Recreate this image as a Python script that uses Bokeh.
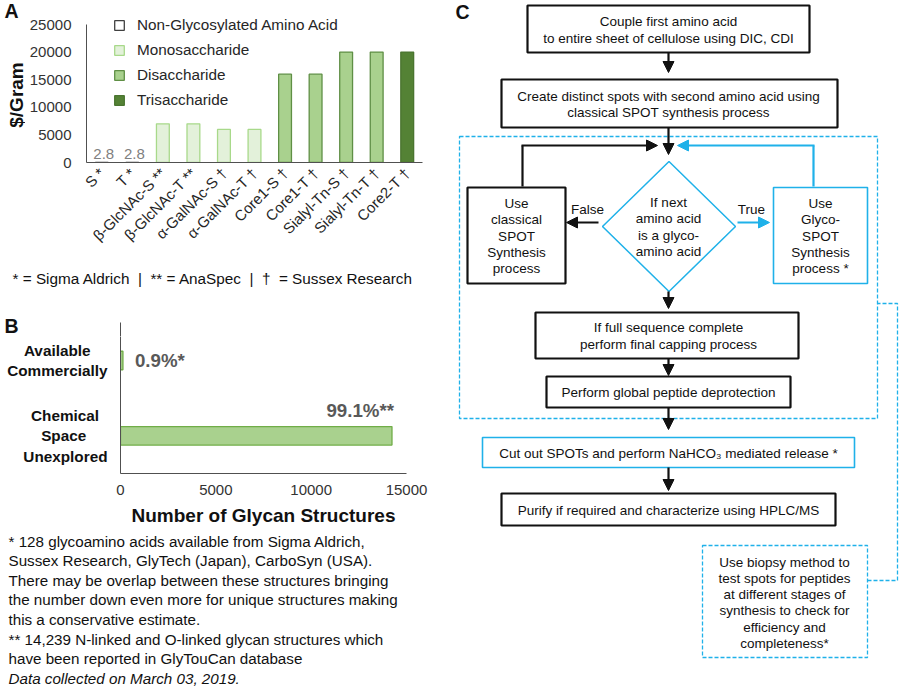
import math
from bokeh.plotting import figure
from bokeh.models import (Range1d, FixedTicker, Legend, LegendItem, Arrow,
                          NormalHead, ColumnDataSource, NumeralTickFormatter)
from bokeh.layouts import row, column
from bokeh.embed import file_html
from bokeh.resources import INLINE
from bokeh.core.properties import value

# ---------------- data: panel A ----------------
amino_acids = ["S *", "T *", "β-GlcNAc-S **", "β-GlcNAc-T **", "α-GalNAc-S †",
               "α-GalNAc-T †", "Core1-S †", "Core1-T †", "Sialyl-Tn-S †",
               "Sialyl-Tn-T †", "Core2-T †"]
price_per_gram = [2.8, 2.8, 7000, 7000, 6000, 6000, 16000, 16000, 20000, 20000, 20000]
glycan_class = (["Non-Glycosylated Amino Acid"] * 2 + ["Monosaccharide"] * 4 +
                ["Disaccharide"] * 4 + ["Trisaccharide"])
class_order = ["Non-Glycosylated Amino Acid", "Monosaccharide", "Disaccharide", "Trisaccharide"]
price_ticks = [0, 5000, 10000, 15000, 20000, 25000]
price_axis_label = "$/Gram"
vendor_parts = ["* = Sigma Aldrich", "** = AnaSpec", "†\u00a0 = Sussex Research"]

# ---------------- data: panel B ----------------
structure_groups = ["Available Commercially", "Chemical Space Unexplored"]
structure_labels = ["Available\nCommercially", "Chemical\nSpace\nUnexplored"]
structure_counts = [128, 14239]
structure_pct = ["0.9%*", "99.1%**"]
count_ticks = [0, 5000, 10000, 15000]
notes_lines = [
    "* 128 glycoamino acids available from Sigma Aldrich,",
    "Sussex Research, GlyTech (Japan), CarboSyn (USA).",
    "There may be overlap between these structures bringing",
    "the number down even more for unique structures making",
    "this a conservative estimate.",
    "** 14,239 N-linked and O-linked glycan structures which",
    "have been reported in GlyTouCan database",
]
notes_italic = "Data collected on March 03, 2019."

# ---------------- styles ----------------
FONT = "Liberation Sans"
BLUE = "#1fb1e9"
BLK = "#111111"
AXIS = "#505050"
class_fill = {"Non-Glycosylated Amino Acid": "#ffffff", "Monosaccharide": "#e3f1da",
              "Disaccharide": "#a9d18e", "Trisaccharide": "#548235"}
class_line = {"Non-Glycosylated Amino Acid": "#404040", "Monosaccharide": "#a8d98a",
              "Disaccharide": "#5f8f45", "Trisaccharide": "#4a7530"}

# Arial/Liberation bold advance widths (1/1000 em) used to centre multi-line tick labels
BOLD_W = {" ": 278, "A": 722, "C": 722, "S": 667, "U": 722, "a": 556, "b": 611,
          "c": 556, "d": 611, "e": 556, "h": 611, "i": 278, "l": 278, "m": 889,
          "n": 611, "o": 611, "p": 611, "r": 389, "v": 556, "x": 556, "y": 556}


def centre_lines(label):
    lines = label.split("\n")
    widths = [sum(BOLD_W.get(ch, 556) for ch in ln) for ln in lines]
    wmax = max(widths)
    return "\n".join(ln + "\u00a0" * round((wmax - w) / 2 / 278)
                     for ln, w in zip(lines, widths))


def canvas(w, h, xr, yr):
    p = figure(width=w, height=h, x_range=Range1d(*xr), y_range=Range1d(*yr),
               output_backend="svg", toolbar_location=None, min_border=0,
               frame_align=False, x_axis_type=None, y_axis_type=None)
    p.outline_line_color = None
    p.grid.visible = False
    return p


def style_axis(ax, size="15px"):
    ax.major_tick_line_color = None
    ax.minor_tick_line_color = None
    ax.major_tick_out = 0
    ax.major_tick_in = 0
    ax.minor_tick_out = 0
    ax.minor_tick_in = 0
    ax.axis_line_color = AXIS
    ax.axis_line_width = 1
    ax.major_label_text_font = FONT
    ax.major_label_text_font_size = size
    ax.major_label_text_color = "#333333"


# ================= Panel A =================
stripL = canvas(25, 265, (0, 25), (265, 0))
stripL.text(x=[4], y=[10], text=["A"], text_align="left", text_baseline="middle",
            text_font=value(FONT), text_font_style="bold", text_font_size="19.5px",
            text_color=BLK)
stripL.text(x=[15.5], y=[94.5], text=[price_axis_label], angle=math.pi / 2,
            text_align="center", text_baseline="middle", text_font=value(FONT),
            text_font_style="bold", text_font_size="19px", text_color=BLK)

nA = len(amino_acids)
yA_top = 25000 * (162 - 10) / (162 - 24)
pA = figure(width=425, height=265, x_range=Range1d(0, nA), y_range=Range1d(0, yA_top),
            output_backend="svg", toolbar_location=None, frame_align=False,
            min_border_left=61, min_border_right=28, min_border_top=10, min_border_bottom=103)
pA.outline_line_color = None
pA.grid.visible = False

xA = [i + 0.5 for i in range(nA)]
items = []
for cls in class_order:
    idx = [i for i in range(nA) if glycan_class[i] == cls]
    src = ColumnDataSource(dict(x=[xA[i] for i in idx], top=[price_per_gram[i] for i in idx]))
    r = pA.vbar(x="x", top="top", bottom=0, width=0.42, source=src,
                fill_color=class_fill[cls], line_color=class_line[cls], line_width=1.3)
    items.append(LegendItem(label=cls, renderers=[r]))

small = [i for i in range(nA) if price_per_gram[i] < 100]
pA.text(x=[xA[i] for i in small], y=[price_per_gram[i] for i in small],
        text=[str(price_per_gram[i]) for i in small], text_align="center",
        text_baseline="bottom", x_offset=2, y_offset=-3, text_font=value(FONT),
        text_font_size="15px", text_color="#808080")

style_axis(pA.xaxis)
style_axis(pA.yaxis)
pA.xaxis.ticker = FixedTicker(ticks=xA)
pA.xaxis.major_label_overrides = {x: lab for x, lab in zip(xA, amino_acids)}
pA.xaxis.major_label_orientation = math.pi / 4
pA.xaxis.major_label_standoff = 8
pA.xaxis.major_label_text_color = "#262626"
pA.yaxis.ticker = FixedTicker(ticks=price_ticks)
pA.yaxis.formatter = NumeralTickFormatter(format="0")
pA.yaxis.bounds = (0, 25000)
pA.yaxis.major_label_standoff = 15

legend = Legend(items=items, location=(27, 53), padding=0, margin=0, spacing=7,
                glyph_width=12, glyph_height=12, label_height=12, label_standoff=12,
                border_line_color=None, background_fill_alpha=0,
                label_text_font=FONT, label_text_font_size="15.3px",
                label_text_color="#262626")
pA.add_layout(legend)

# strip between A and B: vendor footnote, panel letter B
vendor_note = " \u00a0|\u00a0 ".join(vendor_parts)
strip2 = canvas(450, 71, (0, 450), (336, 265))
strip2.text(x=[12], y=[278], text=[vendor_note], text_align="left", text_baseline="middle",
            text_font=value(FONT), text_font_size="15.3px", text_color=BLK)
strip2.text(x=[4], y=[325], text=["B"], text_align="left", text_baseline="middle",
            text_font=value(FONT), text_font_style="bold", text_font_size="19.5px",
            text_color=BLK)
strip2.line([120, 120], [322, 337], line_color=AXIS, line_width=1)

# ================= Panel B =================
nB = len(structure_groups)
yB = [nB - i - 0.5 for i in range(nB)]
yB_top = 1.5 * 137 / (473 - 360)
pB = figure(width=450, height=196, x_range=Range1d(0, 15000), y_range=Range1d(0, yB_top),
            output_backend="svg", toolbar_location=None, frame_align=False,
            min_border_left=120, min_border_right=44, min_border_top=0, min_border_bottom=59)
pB.outline_line_color = None
pB.grid.visible = False
pB.hbar(y=yB, left=0, right=structure_counts, height=0.245,
        fill_color="#a9d18e", line_color="#70ad47", line_width=1.3)

short = [i for i in range(nB) if structure_counts[i] < 7500]
long_ = [i for i in range(nB) if structure_counts[i] >= 7500]
pB.text(x=[structure_counts[i] for i in short], y=[yB[i] for i in short],
        text=[structure_pct[i] for i in short], text_align="left", text_baseline="middle",
        x_offset=12, text_font=value(FONT), text_font_style="bold",
        text_font_size="18.7px", text_color="#595959")
pB.text(x=[structure_counts[i] for i in long_], y=[yB[i] for i in long_],
        text=[structure_pct[i] for i in long_], text_align="right", text_baseline="middle",
        x_offset=2, y_offset=-25, text_font=value(FONT), text_font_style="bold",
        text_font_size="18.7px", text_color="#595959")

style_axis(pB.xaxis, "15px")
style_axis(pB.yaxis, "15.3px")
pB.xaxis.ticker = FixedTicker(ticks=count_ticks)
pB.xaxis.formatter = NumeralTickFormatter(format="0")
pB.xaxis.major_label_standoff = 11
pB.xaxis.axis_label = "Number of Glycan Structures"
pB.xaxis.axis_label_text_font = FONT
pB.xaxis.axis_label_text_font_style = "bold"
pB.xaxis.axis_label_text_font_size = "19px"
pB.xaxis.axis_label_text_color = BLK
pB.xaxis.axis_label_standoff = 7
pB.yaxis.ticker = FixedTicker(ticks=yB)
pB.yaxis.major_label_overrides = {y: centre_lines(lab) for y, lab in zip(yB, structure_labels)}
pB.yaxis.major_label_text_font_style = "bold"
pB.yaxis.major_label_text_color = BLK
pB.yaxis.major_label_standoff = 13

# ================= Notes =================
pN = canvas(450, 154, (0, 450), (686, 532))
ny = [540.5 + i * 19.6 for i in range(len(notes_lines) + 1)]
pN.text(x=[8] * len(notes_lines), y=ny[:-1], text=notes_lines, text_align="left",
        text_baseline="middle", text_font=value(FONT), text_font_size="15.2px",
        text_color=BLK)
pN.text(x=[8], y=[ny[-1]], text=[notes_italic], text_align="left", text_baseline="middle",
        text_font=value(FONT), text_font_size="15.2px", text_font_style="italic",
        text_color=BLK)

# ================= Panel C (flowchart) =================
pC = canvas(450, 686, (450, 900), (686, 0))

pC.quad(left=[459], right=[877], top=[136], bottom=[418], fill_color=None,
        line_color=BLUE, line_width=1.3, line_dash="4 2")
pC.line([867, 897, 897, 877], [580, 580, 303, 303], line_color=BLUE, line_width=1.3,
        line_dash="4 2")
pC.quad(left=[702], right=[867], top=[545], bottom=[657], fill_color="white",
        line_color=BLUE, line_width=1.3, line_dash="4 2")

# solid boxes: left, right, top, bottom, colour, width
boxes = [
    (527, 809, 5, 52, BLK, 2.2),
    (501, 837, 79, 127, BLK, 2.2),
    (467, 565, 187, 283, BLK, 2.2),
    (773, 867, 187, 283, BLUE, 1.6),
    (535, 798, 312, 358, BLK, 2.2),
    (546, 790, 376, 407, BLK, 2.2),
    (482, 854, 437, 467, BLUE, 1.6),
    (501, 835, 493, 525, BLK, 2.2),
]
pC.quad(left=[b[0] for b in boxes], right=[b[1] for b in boxes],
        top=[b[2] for b in boxes], bottom=[b[3] for b in boxes],
        fill_color="white", line_color=[b[4] for b in boxes],
        line_width=[b[5] for b in boxes])

pC.patch([602, 668.5, 735, 668.5], [226, 161, 226, 291], fill_color="white",
         line_color=BLUE, line_width=1.5)

pC.line([522, 522], [186, 145], line_color=BLK, line_width=2.2)
pC.line([813, 813], [186, 145], line_color=BLUE, line_width=2.2)

arrows = [
    (668, 52, 668, 72, BLK),
    (668, 127, 668, 154, BLK),
    (521, 145, 657, 145, BLK),
    (814, 145, 677, 145, BLUE),
    (598, 222, 566, 222, BLK),
    (737, 222, 769, 222, BLUE),
    (668, 291, 668, 308, BLK),
    (668, 358, 668, 375, BLK),
    (668, 407, 668, 429, BLK),
    (668, 467, 668, 490, BLK),
]
for x0, y0, x1, y1, c in arrows:
    pC.add_layout(Arrow(end=NormalHead(size=11, fill_color=c, line_color=c, line_width=1),
                        x_start=x0, y_start=y0, x_end=x1, y_end=y1,
                        line_color=c, line_width=2.2))

c_texts = [
    (668, 21, "Couple first amino acid"),
    (668, 38, "to entire sheet of cellulose using DIC, CDI"),
    (668, 96, "Create distinct spots with second amino acid using"),
    (668, 112, "classical SPOT synthesis process"),
    (668, 202, "If next"), (668, 218, "amino acid"), (668, 235, "is a glyco-"),
    (668, 251, "amino acid"),
    (516, 203, "Use"), (516, 219, "classical"), (516, 236, "SPOT"),
    (516, 252, "Synthesis"), (516, 268, "process"),
    (820, 203, "Use"), (820, 219, "Glyco-"), (820, 236, "SPOT"),
    (820, 252, "Synthesis"), (820, 268, "process *"),
    (587, 209, "False"), (751, 209, "True"),
    (668, 327, "If full sequence complete"),
    (668, 344, "perform final capping process"),
    (668, 392, "Perform global peptide deprotection"),
    (668, 453, "Cut out SPOTs and perform NaHCO\u2083 mediated release *"),
    (668, 510, "Purify if required and characterize using HPLC/MS"),
    (784, 562, "Use biopsy method to"), (784, 578, "test spots for peptides"),
    (784, 594, "at different stages of"), (784, 610, "synthesis to check for"),
    (784, 627, "efficiency and"), (784, 643, "completeness*"),
]
pC.text(x=[t[0] for t in c_texts], y=[t[1] for t in c_texts], text=[t[2] for t in c_texts],
        text_align="center", text_baseline="middle", text_font=value(FONT),
        text_font_size="13.5px", text_color=BLK)
pC.text(x=[455], y=[11], text=["C"], text_align="left", text_baseline="middle",
        text_font=value(FONT), text_font_style="bold", text_font_size="19.5px",
        text_color=BLK)

left = column(row(stripL, pA), strip2, pB, pN)
layout = row(left, pC)
open("out.html", "w").write(file_html(layout, INLINE))
